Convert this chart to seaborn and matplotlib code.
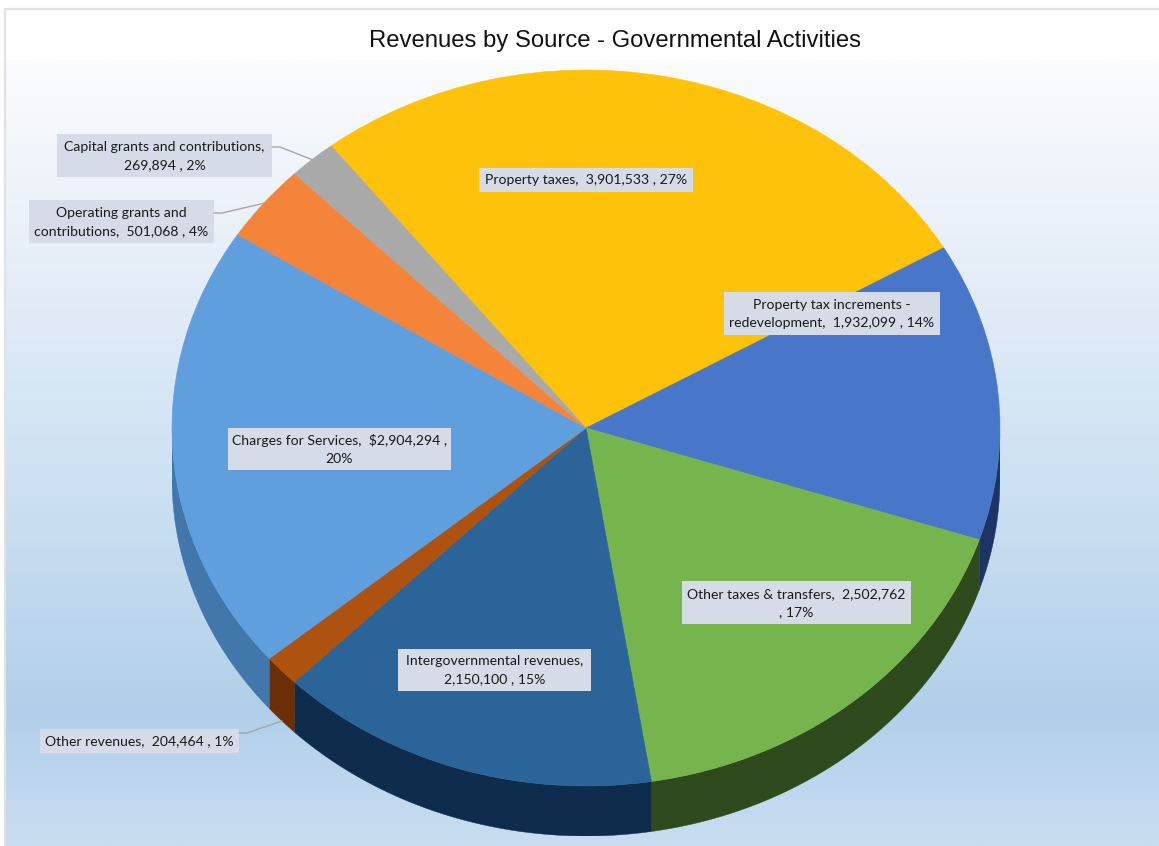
import numpy as np
import matplotlib
matplotlib.use("Agg")
import matplotlib.pyplot as plt
from matplotlib.patches import Polygon, Rectangle
import seaborn as sns

# Revenue data, in pie order (clockwise from the top left)
categories = ["Property taxes", "Property tax increments - redevelopment",
              "Other taxes & transfers", "Intergovernmental revenues",
              "Other revenues", "Charges for Services",
              "Operating grants and contributions",
              "Capital grants and contributions"]
amounts = [3901533, 1932099, 2502762, 2150100, 204464, 2904294, 501068, 269894]
percents = [27, 14, 17, 15, 1, 20, 4, 2]
top_colors = ["#FFC20A", "#4876C8", "#76B54D", "#2A6499",
              "#AE5210", "#5F9FDD", "#F3843A", "#A9A9A9"]
side_colors = ["#8A6A00", "#1C3466", "#2F4A1C", "#0E2C4B",
               "#6C2E05", "#4177AB", "#9A5020", "#707070"]
background_stops = ["#FAFCFE", "#EDF3FA", "#DFEAF6", "#D0E3F3", "#C1D9EE", "#B1CFEA", "#C9DDF1"]

# Text lines of each label, built from the values
money = [f"{a:,}" for a in amounts]
label_lines = [
    [f"Property taxes,  {money[0]} , {percents[0]}%"],
    ["Property tax increments -", f"redevelopment,  {money[1]} , {percents[1]}%"],
    [f"Other taxes & transfers,  {money[2]}", f", {percents[2]}%"],
    ["Intergovernmental revenues,", f"{money[3]} , {percents[3]}%"],
    [f"Other revenues,  {money[4]} , {percents[4]}%"],
    [f"Charges for Services,  ${money[5]} ,", f"{percents[5]}%"],
    ["Operating grants and", f"contributions,  {money[6]} , {percents[6]}%"],
    ["Capital grants and contributions,", f"{money[7]} , {percents[7]}%"],
]
# Label boxes as left, right, top, bottom in figure pixels
label_boxes = [(479, 693, 168, 192), (724, 940, 292, 335), (682, 911, 581, 624),
               (398, 591, 649, 691), (40, 239, 729, 753), (228, 451, 428, 470),
               (29, 214, 200, 243), (57, 272, 134, 177)]
leaders = {4: [(239, 733), (247, 733), (282, 721)],
           6: [(214, 213), (222, 213), (265, 203)],
           7: [(272, 147), (280, 147), (313, 160)]}

W, H = 1159, 846
sns.set_theme(style="white")
plt.rcParams["font.family"] = ["Lato", "DejaVu Sans"]

fig = plt.figure(figsize=(W / 100, H / 100), dpi=100, facecolor="white")


def pixel_axes(left, right, top, bottom):
    return fig.add_axes([left / W, 1 - bottom / H, (right - left) / W, (bottom - top) / H])


# Panel gradient behind the pie
bg_ax = pixel_axes(5, W, 60, H)
gradient = sns.blend_palette(background_stops, as_cmap=True)
bg_ax.imshow(np.linspace(0, 1, 400)[:, None], aspect="auto", cmap=gradient,
             extent=(0, 1, 0, 1), origin="upper")
bg_ax.set_axis_off()

# The top face is an ellipse; the axes box spans it plus the rim below
cx_left, cx_right, pie_top, rim_bottom = 172, 1000, 70, 836
ry_px = 358
depth = 50 / ry_px
pie_ax = pixel_axes(cx_left, cx_right, pie_top, rim_bottom)
pie_ax.patch.set_alpha(0)
palette = sns.color_palette(top_colors)
wedges, _ = pie_ax.pie(amounts, colors=palette, startangle=128, counterclock=False,
                       radius=1, frame=True, wedgeprops=dict(linewidth=0, zorder=3))
for wedge, colour in zip(wedges, palette):
    wedge.set_edgecolor(colour)
    wedge.set_linewidth(0.4)
pie_ax.set_aspect("auto")
pie_ax.set_xlim(-1, 1)
pie_ax.set_ylim(1 - (rim_bottom - pie_top) / ry_px, 1)
pie_ax.set_axis_off()

# Rim: the part of each slice's arc on the near half, extruded downward
for wedge, side in zip(wedges, side_colors):
    for offset in (0, 360):
        lo = max(wedge.theta1 + offset, 180)
        hi = min(wedge.theta2 + offset, 360)
        if hi > lo:
            t = np.radians(np.linspace(lo, hi, 120))
            x, y = np.cos(t), np.sin(t)
            outline = np.r_[np.c_[x, y], np.c_[x, y - depth][::-1]]
            pie_ax.add_patch(Polygon(outline, closed=True, facecolor=side,
                                     edgecolor=side, linewidth=0.3, zorder=2))

# Labels and leader lines, positioned in figure pixels
label_ax = pixel_axes(0, W, 0, H)
label_ax.set_xlim(0, W)
label_ax.set_ylim(H, 0)
label_ax.set_axis_off()
label_ax.patch.set_alpha(0)

for i, (lines, (l, r, t, b)) in enumerate(zip(label_lines, label_boxes)):
    label_ax.add_patch(Rectangle((l, t), r - l, b - t, facecolor="#D5DCE8", edgecolor="none"))
    label_ax.text((l + r) / 2, (t + b) / 2 + 0.5, "\n".join(lines), ha="center", va="center",
                  fontsize=10.1, color="#1A1A1A", linespacing=1.62)
for pts in leaders.values():
    xs, ys = zip(*pts)
    label_ax.plot(xs, ys, color="#A6A6A6", lw=1.0)

# Chart frame along the top and left
label_ax.plot([5, 5, W], [H, 9, 9], color="#E2E2E2", lw=1.6)

label_ax.text(615, 40.5, "Revenues by Source - Governmental Activities", ha="center", va="center",
              fontsize=17.2, color="#111111", family=["Liberation Sans", "DejaVu Sans"])

fig.savefig("out.png", dpi=100, facecolor="white")
